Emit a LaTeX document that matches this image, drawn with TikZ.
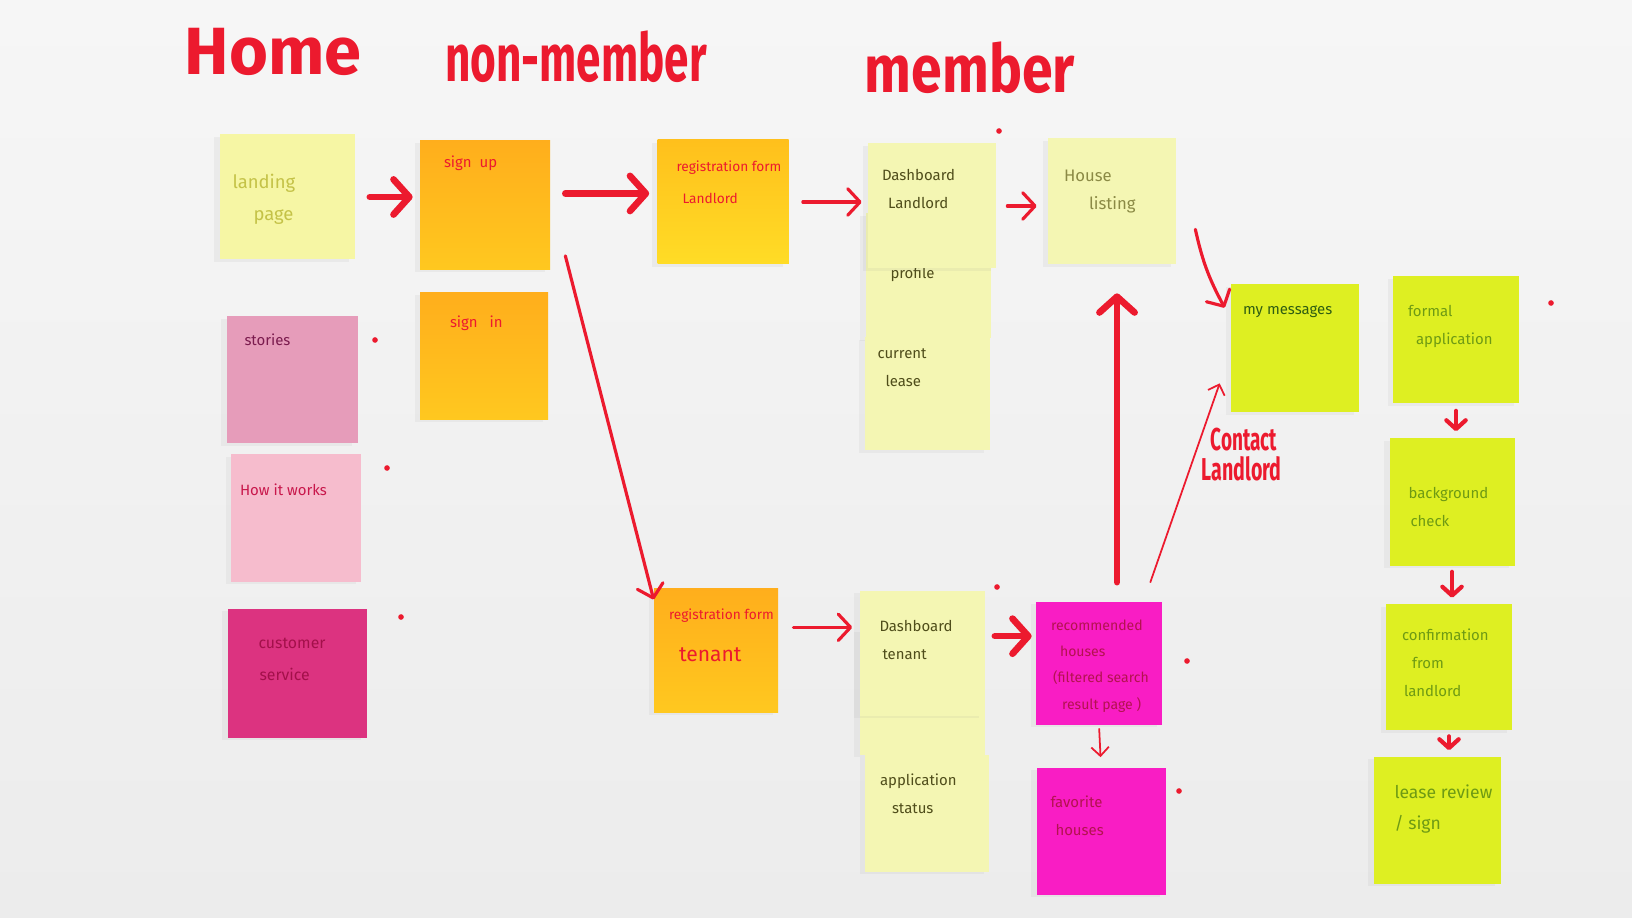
\documentclass[tikz,border=0pt]{standalone}
\usepackage{fontspec}
\setmainfont{Fira Sans}
\usetikzlibrary{arrows.meta,calc,shadows}

\definecolor{marker}{HTML}{EC1A2E}
\definecolor{board}{HTML}{ECECEC}
\definecolor{boardlight}{HTML}{F6F6F6}
\definecolor{paleyellow}{HTML}{F4F6B3}
\definecolor{landingyellow}{HTML}{F6F6A4}
\definecolor{orangetop}{HTML}{FFAE1C}
\definecolor{orangebot}{HTML}{FFC81F}
\definecolor{goldtop}{HTML}{FFC01C}
\definecolor{goldbot}{HTML}{FFDC26}
\definecolor{rose}{HTML}{E69CBA}
\definecolor{blush}{HTML}{F6BCCD}
\definecolor{cerise}{HTML}{DC3380}
\definecolor{magentanote}{HTML}{F91DC4}
\definecolor{lime}{HTML}{DEEF22}
\definecolor{landtext}{HTML}{C4C247}
\definecolor{plum}{HTML}{7B1B4E}
\definecolor{crimson}{HTML}{C8174B}
\definecolor{wine}{HTML}{A3104A}
\definecolor{olive}{HTML}{4F4D1A}
\definecolor{olivelight}{HTML}{8B8A45}
\definecolor{darkgreen}{HTML}{2F5D12}
\definecolor{leaf}{HTML}{6E9A14}
\definecolor{berry}{HTML}{B3124F}

\newlength\pxu
\setlength\pxu{0.02cm}
\newcommand\ind[1]{\hspace*{#1\pxu}}
\newcommand\narrow[2]{\scalebox{#1}[1]{#2}}

\begin{document}
\begin{tikzpicture}
[
x=0.02cm, y=-0.02cm,
sticky/.style={minimum width=128\pxu, minimum height=125\pxu, inner sep=0pt, fill=#1,
            drop shadow={shadow xshift=-3pt, shadow yshift=-1.5pt, opacity=0.08}},
memo/.style n args={3}{label={[inner sep=0pt, anchor=north west, align=left, shift={#2},
            font=\fontsize{8.5}{16}\selectfont, #1]north west:#3}},
heading/.style={text=marker, inner sep=0pt, font=\fontsize{38}{38}\selectfont\bfseries},
pen/.style={draw=marker, line width=3.8pt, line cap=round, -{Straight Barb[length=9pt, width=20pt, round]}},
mid pen/.style={draw=marker, line width=1.8pt, line cap=round, -{Straight Barb[length=7pt, width=15pt, round]}},
thin pen/.style={draw=marker, line width=1pt, line cap=round, -{Straight Barb[length=5pt, width=10pt]}},
down pen/.style={draw=marker, line width=2.4pt, line cap=round, -{Straight Barb[length=5pt, width=11pt, round]}},
]

\useasboundingbox (0,0) rectangle (1632,918);
\shade[top color=boardlight, bottom color=board] (0,0) rectangle (1632,918);

\node[heading] (home) at (273,52) {Home};
\node[heading] (nonmember) at (576,57) {\narrow{0.66}{non-member}};
\node[heading] (member) at (970,68) {\narrow{0.83}{member}};

% home column
\node[sticky=landingyellow, minimum width=135\pxu, memo={text=landtext, font=\fontsize{10.5}{18}\selectfont}{(13,40)}{landing\\\ind{21}page}] (landing) at (287,197) {};
\node[sticky=rose, minimum width=131\pxu, minimum height=127\pxu, memo={text=plum}{(18,17)}{stories}] (stories) at (292,380) {};
\node[sticky=blush, minimum width=130\pxu, minimum height=127\pxu, memo={text=crimson}{(9,29)}{How it works}] (howto) at (296,518) {};
\node[sticky=cerise, minimum width=139\pxu, minimum height=129\pxu, memo={text=wine, font=\fontsize{9}{18}\selectfont}{(31,30)}{customer\\\ind{1}service}] (support) at (297,673) {};

% non-member column
\node[sticky=orangebot, top color=orangetop, bottom color=orangebot, minimum width=130\pxu, minimum height=129\pxu,
      memo={text=marker}{(24,15)}{sign\ \ up}] (signup) at (485,205) {};
\node[sticky=orangebot, top color=orangetop, bottom color=orangebot, minimum height=127\pxu,
      memo={text=marker}{(30,23)}{sign\ \ \ in}] (signin) at (484,356) {};
\node[sticky=goldbot, top color=goldtop, bottom color=goldbot, minimum width=131\pxu, minimum height=124\pxu,
      memo={text=marker, font=\fontsize{7.8}{18}\selectfont}{(19,21)}{registration form\\\ind{6}Landlord}] (regland) at (723,202) {};
\node[sticky=orangebot, top color=orangetop, bottom color=orangebot, minimum width=124\pxu, minimum height=124\pxu,
      memo={text=marker, font=\fontsize{7.8}{16}\selectfont}{(15,21)}{registration form\\[8pt]\ind{10}{\fontsize{12}{14}\selectfont tenant}}] (regtenant) at (716,650) {};

% member, landlord
\node[sticky=paleyellow, minimum width=125\pxu, memo={text=olive}{(25,54)}{profile}] (profile) at (928,276) {};
\node[sticky=paleyellow, memo={text=olive}{(14,26)}{Dashboard\\\ind{6}Landlord}] (dashland) at (932,206) {};
\node[sticky=paleyellow, minimum width=125\pxu, minimum height=113\pxu, memo={text=olive}{(13,11)}{current\\\ind{8}lease}] (lease) at (927,394) {};
\node[sticky=paleyellow, minimum height=126\pxu, memo={text=olivelight, font=\fontsize{9.5}{16}\selectfont}{(16,32)}{House\\\ind{25}listing}] (listing) at (1112,201) {};

% member, tenant
\node[sticky=paleyellow, minimum width=125\pxu] (spare) at (922,692) {};
\node[sticky=paleyellow, minimum width=125\pxu, memo={text=olive}{(20,30)}{Dashboard\\\ind{3}tenant}] (dashtenant) at (922,653) {};
\node[sticky=paleyellow, minimum width=124\pxu, minimum height=117\pxu, memo={text=olive}{(15,19)}{application\\\ind{12}status}] (appstatus) at (927,813) {};
\node[sticky=magentanote, minimum width=126\pxu, minimum height=123\pxu,
      memo={text=berry, font=\fontsize{8}{15}\selectfont}{(15,18)}{recommended\\\ind{9}houses\\\ind{2}(filtered search\\\ind{11}result page )}] (recommended) at (1099,663) {};
\node[sticky=magentanote, minimum width=129\pxu, minimum height=127\pxu, memo={text=berry}{(14,28)}{favorite\\\ind{5}houses}] (favorites) at (1101,831) {};

% messages and lease steps
\node[sticky=lime, minimum height=128\pxu, memo={text=darkgreen}{(12,22)}{my messages}] (inbox) at (1295,348) {};
\node[sticky=lime, minimum width=126\pxu, minimum height=127\pxu, memo={text=leaf}{(15,29)}{formal\\\ind{8}application}] (formal) at (1456,340) {};
\node[sticky=lime, minimum width=125\pxu, minimum height=127\pxu, memo={text=leaf}{(19,49)}{background\\\ind{2}check}] (bgcheck) at (1452,502) {};
\node[sticky=lime, minimum width=126\pxu, minimum height=126\pxu, memo={text=leaf}{(16,25)}{confirmation\\\ind{10}from\\\ind{2}landlord}] (confirm) at (1449,667) {};
\node[sticky=lime, minimum width=127\pxu, minimum height=127\pxu, memo={text=leaf, font=\fontsize{10}{18}\selectfont}{(21,28)}{lease review\\/ sign}] (review) at (1437,820) {};

\draw[pen, shorten <=0.3cm, shorten >=0.14cm] (landing.east) -- (landing.east -| signup.west);
\draw[pen, shorten <=0.3cm, shorten >=0.16cm] (signup.10) -- (signup.10 -| regland.west);
\draw[mid pen] ($(signup.south east)+(15,-14)$) -- (regtenant.141);
\draw[mid pen, shorten <=0.28cm, shorten >=0.12cm] (regland.east) -- (regland.east -| dashland.west);
\draw[mid pen, shorten <=0.22cm, shorten >=0.22cm] (dashland.east) -- (dashland.east -| listing.west);
\draw[mid pen] ($(listing.south east)+(19,-35)$) to[bend right=8] ($(inbox.north west)+(-6,24)$);

\draw[mid pen, shorten <=0.3cm, shorten >=0.14cm] (regtenant.20) -- (regtenant.20 -| dashtenant.west);
\draw[pen, shorten <=0.2cm, shorten >=0.08cm] (dashtenant.15) -- (dashtenant.15 -| recommended.west);
\draw[pen] ($(recommended.north)+(18,-19)$) -- ($(listing.south)+(5,29)$);
\draw[thin pen] ($(recommended.north east)+(-12,-19)$) -- ($(inbox.south west)+(-11,-29)$)
      node[pos=0.64, anchor=west, inner sep=0pt, xshift=0.12cm, align=left, text=marker,
           font=\fontsize{18}{17}\selectfont\bfseries] (contact) {\ind{9}\narrow{0.6}{Contact}\\\narrow{0.62}{Landlord}};
\draw[thin pen, shorten <=0.08cm, shorten >=0.2cm] (recommended.south) -- (favorites.north);

\draw[down pen, shorten <=0.14cm, shorten >=0.14cm] (formal.south) -- (formal.south |- bgcheck.north);
\draw[down pen, shorten <=0.12cm, shorten >=0.12cm] (bgcheck.south) -- (bgcheck.south |- confirm.north);
\draw[down pen, shorten <=0.12cm, shorten >=0.12cm] (confirm.south) -- (confirm.south |- review.north);

\fill[marker] (999,131) circle (1.6pt);
\fill[marker] (375,340) circle (1.6pt);
\fill[marker] (387,468) circle (1.6pt);
\fill[marker] (401,617) circle (1.6pt);
\fill[marker] (997,587) circle (1.6pt);
\fill[marker] (1187,661) circle (1.6pt);
\fill[marker] (1179,791) circle (1.6pt);
\fill[marker] (1551,303) circle (1.6pt);

\end{tikzpicture}
\end{document}
